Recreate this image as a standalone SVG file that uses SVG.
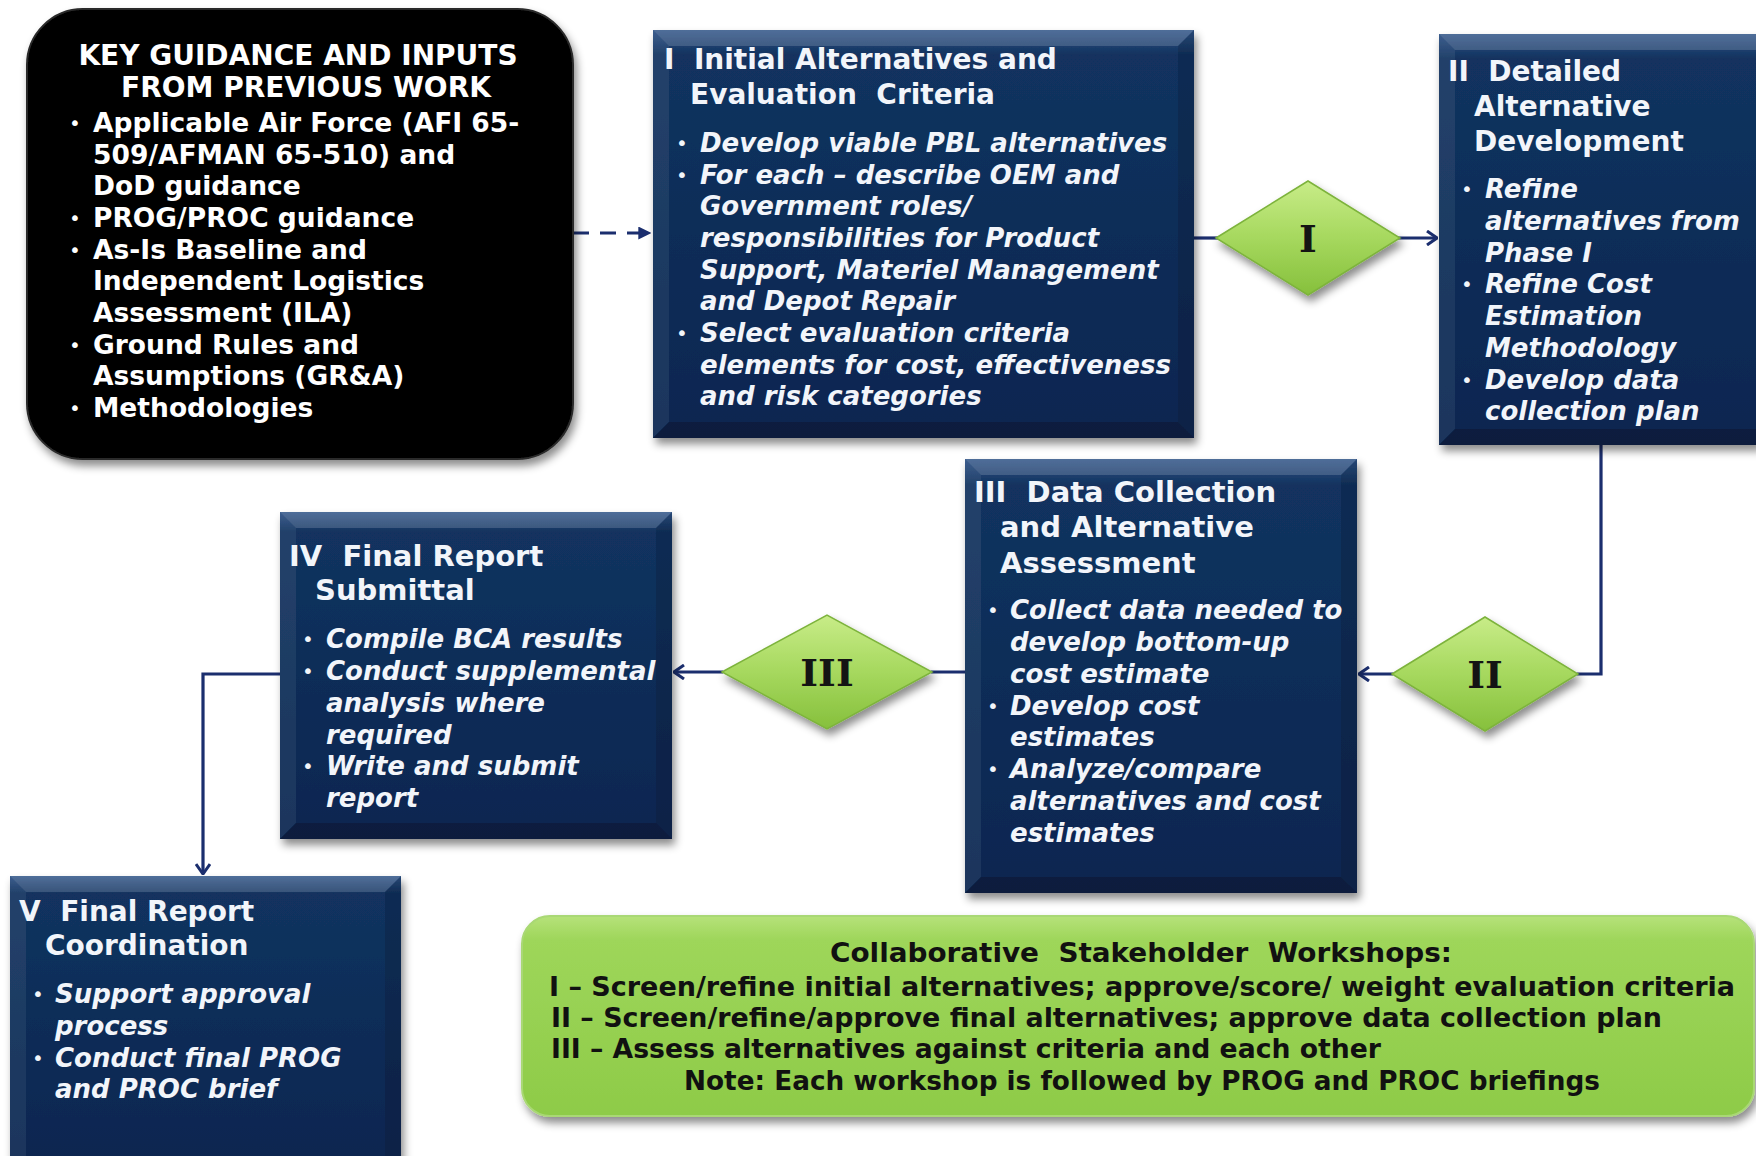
<svg xmlns="http://www.w3.org/2000/svg" width="1756" height="1156" viewBox="0 0 1756 1156">
<defs>
<style>
text{white-space:pre}
.h{font-family:"DejaVu Sans",Verdana,sans-serif;font-weight:bold;font-size:28px;fill:#f2f5fa}
.h2{font-family:"DejaVu Sans",Verdana,sans-serif;font-weight:bold;font-size:29px;fill:#f2f5fa}
.b{font-family:"DejaVu Sans",Verdana,sans-serif;font-weight:bold;font-style:italic;font-size:26px;fill:#f2f5fa}
.dot{font-family:"DejaVu Sans",sans-serif;font-size:20px;fill:#f2f5fa}
.k{font-family:"DejaVu Sans",Verdana,sans-serif;font-weight:bold;font-size:26.5px;fill:#ffffff}
.kh{font-family:"DejaVu Sans",Verdana,sans-serif;font-weight:bold;font-size:28px;fill:#ffffff;text-anchor:middle}
.kd{font-family:"DejaVu Sans",sans-serif;font-size:20px;fill:#ffffff}
.dl{font-family:"DejaVu Serif",serif;font-weight:bold;font-size:38px;fill:#141414;text-anchor:middle}
.g{font-family:"DejaVu Sans Condensed","DejaVu Sans",sans-serif;font-weight:bold;font-size:26px;fill:#111}
.navy{fill:url(#navy)}
.bt{fill:#ffffff;fill-opacity:0.16}
.bl{fill:#ffffff;fill-opacity:0.07}
.br{fill:#000000;fill-opacity:0.12}
.bb{fill:#000000;fill-opacity:0.22}
.conn{fill:none;stroke:#1b2e6e;stroke-width:3.2}
.dia{fill:url(#grn);stroke:#7db33c;stroke-width:1.5}
</style>
<linearGradient id="navy" x1="0" y1="0" x2="0" y2="1">
<stop offset="0" stop-color="#2e5286"/>
<stop offset="0.06" stop-color="#12335f"/>
<stop offset="1" stop-color="#0a2650"/>
</linearGradient>
<linearGradient id="grn" x1="0" y1="0" x2="0" y2="1">
<stop offset="0" stop-color="#c8ec88"/>
<stop offset="0.5" stop-color="#a6d85e"/>
<stop offset="1" stop-color="#86c03c"/>
</linearGradient>
<linearGradient id="grnbox" x1="0" y1="0" x2="0" y2="1">
<stop offset="0" stop-color="#b6e27a"/>
<stop offset="0.12" stop-color="#9ed65a"/>
<stop offset="1" stop-color="#8ecb48"/>
</linearGradient>
<filter id="shadow" x="-10%" y="-10%" width="125%" height="125%">
<feDropShadow dx="3" dy="6" stdDeviation="4" flood-color="#000" flood-opacity="0.45"/>
</filter>
<marker id="chev" viewBox="0 0 12 16" refX="11" refY="8" markerWidth="12" markerHeight="16" markerUnits="userSpaceOnUse" orient="auto">
<path d="M1,1 L11,8 L1,15" fill="none" stroke="#1b2e6e" stroke-width="3"/>
</marker>
<marker id="tri" viewBox="0 0 10 10" refX="9" refY="5" markerWidth="13" markerHeight="13" markerUnits="userSpaceOnUse" orient="auto">
<path d="M0,0 L10,5 L0,10 Z" fill="#1b2e6e"/>
</marker>
</defs>

<rect width="1756" height="1156" fill="#ffffff"/>

<g id="connectors">
<path class="conn" d="M573,233 L650,233" stroke-dasharray="16,11" marker-end="url(#tri)"/>
<path class="conn" d="M1194,238 L1218,238"/>
<path class="conn" d="M1398,238 L1437,238" marker-end="url(#chev)"/>
<path class="conn" d="M1601,445 L1601,674 L1577,674"/>
<path class="conn" d="M1393,674 L1359,674" marker-end="url(#chev)"/>
<path class="conn" d="M965,672 L931,672"/>
<path class="conn" d="M723,672 L674,672" marker-end="url(#chev)"/>
<path class="conn" d="M280,674 L203,674 L203,874" marker-end="url(#chev)"/>
</g>

<g id="key-inputs">
<rect x="27" y="9" width="546" height="450" rx="56" ry="56" fill="#000" stroke="#2a2a2a" stroke-width="2" filter="url(#shadow)"/>
<text class="kh" x="298" y="65">KEY GUIDANCE AND INPUTS</text>
<text class="kh" x="306" y="97">FROM PREVIOUS WORK</text>
<text class="kd" x="69" y="130">•</text><text class="k" x="93" y="132">Applicable Air Force (AFI 65-</text>
<text class="k" x="93" y="164">509/AFMAN 65-510) and</text>
<text class="k" x="93" y="195">DoD guidance</text>
<text class="kd" x="69" y="225">•</text><text class="k" x="93" y="227">PROG/PROC guidance</text>
<text class="kd" x="69" y="257">•</text><text class="k" x="93" y="259">As-Is Baseline and</text>
<text class="k" x="93" y="290">Independent Logistics</text>
<text class="k" x="93" y="322">Assessment (ILA)</text>
<text class="kd" x="69" y="352">•</text><text class="k" x="93" y="354">Ground Rules and</text>
<text class="k" x="93" y="385">Assumptions (GR&amp;A)</text>
<text class="kd" x="69" y="415">•</text><text class="k" x="93" y="417">Methodologies</text>
</g>

<g id="phase-1">
<g filter="url(#shadow)">
<rect class="navy" x="653" y="30" width="541" height="408"/>
<polygon class="bt" points="653,30 1194,30 1178,46 669,46"/>
<polygon class="bl" points="653,30 669,46 669,422 653,438"/>
<polygon class="br" points="1194,30 1194,438 1178,422 1178,46"/>
<polygon class="bb" points="653,438 1194,438 1178,422 669,422"/>
</g>
<text class="h" x="664" y="69">I  Initial Alternatives and</text>
<text class="h" x="690" y="104">Evaluation  Criteria</text>
<text class="dot" x="676" y="150">•</text><text class="b" x="700" y="152">Develop viable PBL alternatives</text>
<text class="dot" x="676" y="182">•</text><text class="b" x="700" y="184">For each – describe OEM and</text>
<text class="b" x="700" y="215">Government roles/</text>
<text class="b" x="700" y="247">responsibilities for Product</text>
<text class="b" x="700" y="279">Support, Materiel Management</text>
<text class="b" x="700" y="310">and Depot Repair</text>
<text class="dot" x="676" y="340">•</text><text class="b" x="700" y="342">Select evaluation criteria</text>
<text class="b" x="700" y="374">elements for cost, effectiveness</text>
<text class="b" x="700" y="405">and risk categories</text>
</g>

<g id="phase-2">
<g filter="url(#shadow)">
<rect class="navy" x="1439" y="34" width="320" height="411"/>
<polygon class="bt" points="1439,34 1759,34 1759,50 1455,50"/>
<polygon class="bl" points="1439,34 1455,50 1455,429 1439,445"/>
<polygon class="bb" points="1439,445 1759,445 1759,429 1455,429"/>
</g>
<text class="h" x="1448" y="81">II  Detailed</text>
<text class="h" x="1474" y="116">Alternative</text>
<text class="h" x="1474" y="151">Development</text>
<text class="dot" x="1461" y="196">•</text><text class="b" x="1485" y="198">Refine</text>
<text class="b" x="1485" y="230">alternatives from</text>
<text class="b" x="1485" y="262">Phase I</text>
<text class="dot" x="1461" y="291">•</text><text class="b" x="1485" y="293">Refine Cost</text>
<text class="b" x="1485" y="325">Estimation</text>
<text class="b" x="1485" y="357">Methodology</text>
<text class="dot" x="1461" y="387">•</text><text class="b" x="1485" y="389">Develop data</text>
<text class="b" x="1485" y="420">collection plan</text>
</g>

<g id="phase-3">
<g filter="url(#shadow)">
<rect class="navy" x="965" y="459" width="392" height="434"/>
<polygon class="bt" points="965,459 1357,459 1341,475 981,475"/>
<polygon class="bl" points="965,459 981,475 981,877 965,893"/>
<polygon class="br" points="1357,459 1357,893 1341,877 1341,475"/>
<polygon class="bb" points="965,893 1357,893 1341,877 981,877"/>
</g>
<text class="h2" x="974" y="502">III  Data Collection</text>
<text class="h2" x="1000" y="537">and Alternative</text>
<text class="h2" x="1000" y="573">Assessment</text>
<text class="dot" x="987" y="617">•</text><text class="b" x="1010" y="619">Collect data needed to</text>
<text class="b" x="1010" y="651">develop bottom-up</text>
<text class="b" x="1010" y="683">cost estimate</text>
<text class="dot" x="987" y="713">•</text><text class="b" x="1010" y="715">Develop cost</text>
<text class="b" x="1010" y="746">estimates</text>
<text class="dot" x="987" y="776">•</text><text class="b" x="1010" y="778">Analyze/compare</text>
<text class="b" x="1010" y="810">alternatives and cost</text>
<text class="b" x="1010" y="842">estimates</text>
</g>

<g id="phase-4">
<g filter="url(#shadow)">
<rect class="navy" x="280" y="512" width="392" height="327"/>
<polygon class="bt" points="280,512 672,512 656,528 296,528"/>
<polygon class="bl" points="280,512 296,528 296,823 280,839"/>
<polygon class="br" points="672,512 672,839 656,823 656,528"/>
<polygon class="bb" points="280,839 672,839 656,823 296,823"/>
</g>
<text class="h2" x="289" y="566">IV  Final Report</text>
<text class="h2" x="315" y="600">Submittal</text>
<text class="dot" x="302" y="646">•</text><text class="b" x="326" y="648">Compile BCA results</text>
<text class="dot" x="302" y="678">•</text><text class="b" x="326" y="680">Conduct supplemental</text>
<text class="b" x="326" y="712">analysis where</text>
<text class="b" x="326" y="744">required</text>
<text class="dot" x="302" y="773">•</text><text class="b" x="326" y="775">Write and submit</text>
<text class="b" x="326" y="807">report</text>
</g>

<g id="phase-5">
<g filter="url(#shadow)">
<rect class="navy" x="10" y="876" width="391" height="284"/>
<polygon class="bt" points="10,876 401,876 385,892 26,892"/>
<polygon class="bl" points="10,876 26,892 26,1160 10,1160"/>
<polygon class="br" points="401,876 401,1160 385,1160 385,892"/>
</g>
<text class="h" x="19" y="921">V  Final Report</text>
<text class="h" x="45" y="955">Coordination</text>
<text class="dot" x="32" y="1001">•</text><text class="b" x="55" y="1003">Support approval</text>
<text class="b" x="55" y="1035">process</text>
<text class="dot" x="32" y="1065">•</text><text class="b" x="55" y="1067">Conduct final PROG</text>
<text class="b" x="55" y="1098">and PROC brief</text>
</g>

<g id="gate-1">
<polygon class="dia" points="1216,238 1308,181 1400,238 1308,295" filter="url(#shadow)"/>
<text class="dl" x="1308" y="252">I</text>
</g>
<g id="gate-2">
<polygon class="dia" points="1392,674 1485,617 1578,674 1485,731" filter="url(#shadow)"/>
<text class="dl" x="1485" y="688">II</text>
</g>
<g id="gate-3">
<polygon class="dia" points="722,672 827,615 932,672 827,729" filter="url(#shadow)"/>
<text class="dl" x="827" y="686">III</text>
</g>

<g id="workshops">
<rect x="522" y="916" width="1232" height="200" rx="28" ry="28" fill="url(#grnbox)" stroke="#a9d874" stroke-width="2" filter="url(#shadow)"/>
<text class="g" x="1141" y="962" text-anchor="middle" textLength="622" lengthAdjust="spacingAndGlyphs">Collaborative  Stakeholder  Workshops:</text>
<text class="g" x="549" y="996" textLength="1186" lengthAdjust="spacingAndGlyphs">I – Screen/refine initial alternatives; approve/score/ weight evaluation criteria</text>
<text class="g" x="551" y="1027" textLength="1111" lengthAdjust="spacingAndGlyphs">II – Screen/refine/approve final alternatives; approve data collection plan</text>
<text class="g" x="551" y="1058" textLength="830" lengthAdjust="spacingAndGlyphs">III – Assess alternatives against criteria and each other</text>
<text class="g" x="684" y="1090" textLength="916" lengthAdjust="spacingAndGlyphs">Note: Each workshop is followed by PROG and PROC briefings</text>
</g>
</svg>
